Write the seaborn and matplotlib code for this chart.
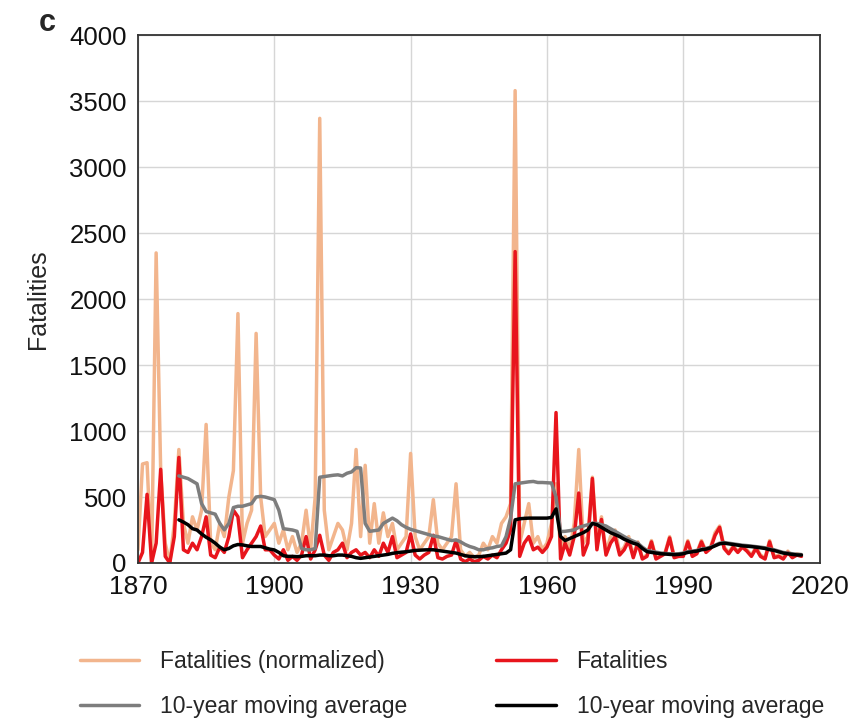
import numpy as np
import pandas as pd
import matplotlib
matplotlib.use("Agg")
import matplotlib.pyplot as plt
import seaborn as sns

# ---------------- data ----------------
years = list(range(1870, 2017))

# Fatalities (normalized), one value per year 1870..2016
normalized = [
    100, 750, 760, 0, 2350, 700, 150, 0, 300, 860,          # 1870s
    300, 150, 350, 250, 400, 1050, 150, 100, 300, 200,      # 1880s
    500, 700, 1890, 150, 300, 400, 1740, 500, 200, 250,     # 1890s
    300, 150, 250, 100, 200, 80, 150, 400, 100, 500,        # 1900s
    3370, 400, 100, 200, 300, 250, 100, 300, 860, 200,      # 1910s
    740, 150, 450, 150, 380, 200, 300, 100, 150, 200,       # 1920s
    830, 200, 100, 150, 200, 480, 150, 100, 150, 200,       # 1930s
    600, 100, 50, 80, 40, 60, 150, 100, 200, 150,           # 1940s
    300, 350, 450, 3580, 150, 300, 450, 150, 200, 100,      # 1950s
    150, 300, 600, 100, 200, 100, 300, 860, 150, 200,       # 1960s
    650, 150, 350, 80, 200, 250, 80, 120, 200, 60,          # 1970s
    160, 40, 60, 170, 40, 60, 80, 200, 50, 60,              # 1980s
    60, 170, 60, 80, 170, 90, 120, 230, 280, 120,           # 1990s
    80, 130, 90, 130, 100, 60, 120, 60, 40, 170,            # 2000s
    50, 60, 40, 90, 50, 70, 60,                             # 2010-2016
]

# Fatalities, one value per year 1870..2016
fatalities = [
    0, 80, 520, 0, 150, 710, 50, 0, 200, 800,
    100, 80, 150, 100, 200, 350, 60, 40, 120, 80,
    200, 400, 350, 40, 100, 150, 200, 280, 100, 100,
    60, 30, 100, 20, 50, 20, 60, 200, 30, 100,
    210, 60, 20, 80, 100, 150, 40, 80, 100, 60,
    80, 40, 100, 50, 150, 80, 200, 40, 60, 80,
    220, 60, 30, 60, 80, 210, 40, 30, 50, 60,
    170, 30, 10, 30, 10, 20, 50, 30, 60, 40,
    100, 150, 250, 2360, 50, 150, 200, 100, 120, 80,
    120, 200, 1140, 30, 150, 60, 200, 530, 60, 150,
    640, 100, 330, 60, 150, 200, 60, 100, 170, 40,
    150, 30, 50, 160, 30, 50, 70, 190, 40, 50,
    50, 160, 50, 70, 160, 80, 110, 210, 270, 110,
    70, 120, 80, 120, 90, 50, 110, 50, 30, 160,
    40, 50, 30, 80, 40, 60, 50,
]

# 10-year moving averages, one value per year 1879..2016
ma_years = list(range(1879, 2017))
ma_normalized = [
    660,                                                    # 1879
    650, 640, 620, 600, 450, 390, 380, 370, 300, 251,       # 1880s
    300, 420, 430, 430, 440, 450, 500, 505, 500, 490,       # 1890-1899
    480, 400, 260, 255, 250, 240, 110, 100, 100, 110,       # 1900s
    650, 655, 660, 665, 668, 660, 680, 690, 722, 720,       # 1910s
    300, 240, 245, 250, 300, 320, 340, 320, 290, 270,       # 1920s
    255, 245, 235, 225, 215, 205, 200, 190, 180, 170,       # 1930s
    175, 160, 140, 125, 115, 100, 100, 110, 115, 125,       # 1940s
    130, 200, 340, 600, 605, 610, 615, 618, 610, 610,       # 1950s
    608, 606, 500, 238, 240, 245, 251, 270, 280, 290,       # 1960s
    300, 300, 290, 280, 260, 240, 220, 200, 180, 165,       # 1970s
    150, 120, 95, 88, 82, 76, 72, 70, 68, 70,               # 1980s
    75, 85, 90, 95, 105, 110, 120, 135, 150, 155,           # 1990s
    150, 145, 140, 135, 132, 128, 124, 120, 115, 106,       # 2000s
    100, 90, 80, 75, 70, 66, 64,                            # 2010-2016
]
ma_fatalities = [
    327,
    310, 290, 260, 250, 220, 195, 175, 150, 120, 100,
    110, 130, 140, 137, 130, 125, 125, 125, 115, 105,
    99, 80, 55, 50, 50, 48, 50, 55, 55, 55,
    60, 60, 55, 55, 60, 60, 55, 50, 40, 35,
    40, 45, 50, 55, 60, 65, 73, 78, 82, 85,
    90, 95, 97, 99, 100, 100, 95, 90, 85, 80,
    75, 65, 55, 50, 48, 48, 50, 55, 60, 65,
    70, 75, 100, 327, 335, 338, 340, 340, 340, 340,
    340, 345, 410, 200, 170, 185, 200, 215, 230, 250,
    300, 290, 270, 250, 230, 215, 200, 180, 165, 150,
    140, 110, 86, 80, 75, 70, 68, 65, 63, 65,
    70, 80, 85, 90, 100, 105, 115, 130, 145, 150,
    145, 140, 135, 130, 127, 124, 120, 115, 110, 101,
    95, 85, 75, 70, 65, 61, 60,
]

x_ticks = [1870, 1900, 1930, 1960, 1990, 2020]
y_ticks = [0, 500, 1000, 1500, 2000, 2500, 3000, 3500, 4000]
labels = ["Fatalities (normalized)", "10-year moving average",
          "Fatalities", "10-year moving average"]

# ---------------- plotting ----------------
sns.set_theme(style="white")
plt.rcParams["font.family"] = ["Liberation Sans", "DejaVu Sans"]

df = pd.DataFrame({"year": years, "normalized": normalized, "fatalities": fatalities})
dma = pd.DataFrame({"year": ma_years, "ma_n": ma_normalized, "ma_f": ma_fatalities})

fig = plt.figure(figsize=(8.65, 7.19), dpi=100)
ax = fig.add_axes([0.1595, 0.217, 0.788, 0.734])

c_orange = "#F2B58D"
c_red = "#E8151C"
c_gray = "#7D7D7D"
c_black = "#000000"
lw = 2.5

sns.lineplot(data=df, x="year", y="normalized", ax=ax, color=c_orange, lw=lw)
sns.lineplot(data=df, x="year", y="fatalities", ax=ax, color=c_red, lw=lw)
sns.lineplot(data=dma, x="year", y="ma_n", ax=ax, color=c_gray, lw=lw)
sns.lineplot(data=dma, x="year", y="ma_f", ax=ax, color=c_black, lw=lw)

ax.set_xlim(1870, 2020)
ax.set_ylim(0, 4000)
ax.set_xticks(x_ticks)
ax.set_yticks(y_ticks)
ax.grid(True, color="#D6D6D6", lw=1.0)
ax.set_axisbelow(True)
ax.tick_params(axis="y", length=0, labelsize=18.5, pad=8, colors="#111111")
ax.tick_params(axis="x", length=0, labelsize=19, pad=9, colors="#111111")
for s in ax.spines.values():
    s.set_color("#333333")
    s.set_linewidth(1.3)
ax.set_xlabel("")
ax.set_ylabel("Fatalities", fontsize=18, labelpad=14)

fig.text(0.045, 0.968, "c", fontsize=22, fontweight="bold", ha="left", va="center")

lines = ax.get_lines()
handles = [lines[0], lines[2], lines[1], lines[3]]
fig.legend(handles, labels, ncol=2, loc="upper left",
           bbox_to_anchor=(0.092, 0.096), frameon=False, fontsize=16.5,
           handlelength=2.6, handletextpad=0.9, columnspacing=3.9,
           labelspacing=0.95, borderaxespad=0, borderpad=0)

fig.savefig("out.png", dpi=100)
